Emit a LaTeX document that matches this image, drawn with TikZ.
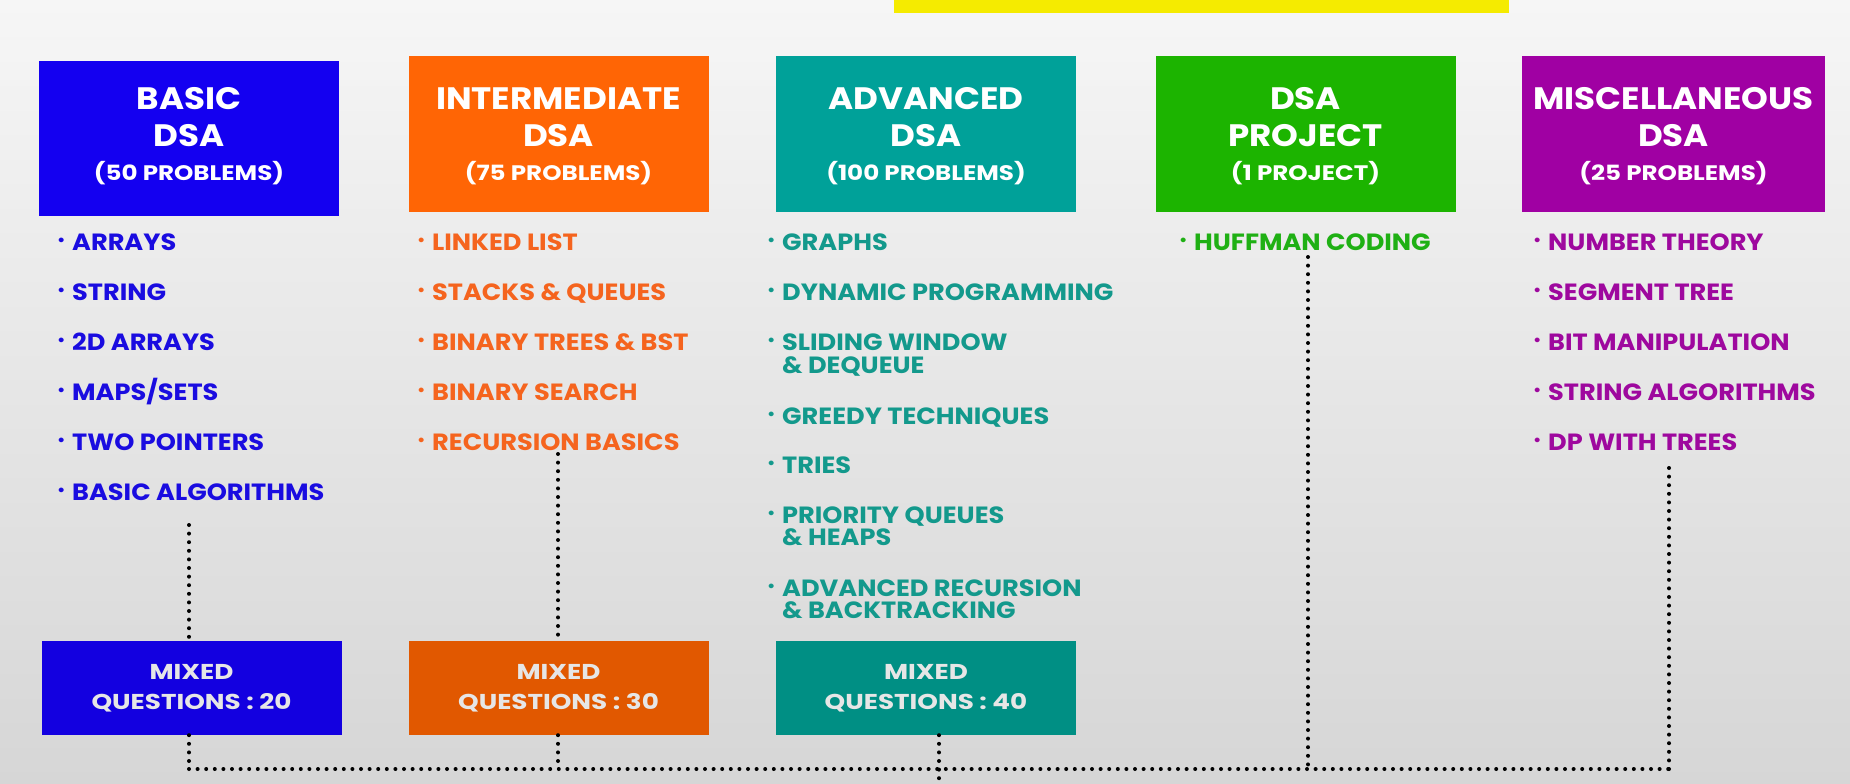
\documentclass[tikz,border=0pt]{standalone}
\usepackage{fontspec}
\setmainfont{Poppins}
\newfontfamily\headfont{Poppins}[FakeStretch=1.1]
\newfontfamily\subfont{Poppins}[FakeStretch=1.17]
\newfontfamily\listfont{Poppins}[FakeStretch=1.09]
\newfontfamily\mixfont{Poppins}[FakeStretch=1.22]

\definecolor{bgtop}{HTML}{F6F6F6}
\definecolor{bgbot}{HTML}{D6D6D6}
\definecolor{hlyellow}{HTML}{F5EB00}
\definecolor{cblue}{HTML}{1400F0}
\definecolor{corange}{HTML}{FF6505}
\definecolor{cteal}{HTML}{00A199}
\definecolor{cgreen}{HTML}{1CB400}
\definecolor{cpurple}{HTML}{A000A3}
\definecolor{dblue}{HTML}{1300E0}
\definecolor{dorange}{HTML}{E15800}
\definecolor{dteal}{HTML}{008F84}
\definecolor{tblue}{HTML}{1A0CE0}
\definecolor{torange}{HTML}{F5641E}
\definecolor{tteal}{HTML}{13998C}
\definecolor{tgreen}{HTML}{1FB014}
\definecolor{tpurple}{HTML}{9E089E}
\definecolor{mixtext}{HTML}{E6E6E6}

\newcommand\bul{\makebox[15pt][l]{\raisebox{0.32ex}{\scalebox{0.65}{•}}}}
\newcommand\subline[1]{\\[-4pt]{\subfont\fontsize{21}{37.5}\selectfont #1}}

\begin{document}
\begin{tikzpicture}[x=1pt,y=-1pt,
  headbox/.style={rectangle, minimum width=300pt, minimum height=155pt, inner sep=0pt},
  headtext/.style={inner sep=0pt, text=white, align=center,
    font=\headfont\fontsize{31}{37.5}\selectfont\bfseries},
  mixbox/.style={rectangle, minimum width=300pt, minimum height=94pt, inner sep=0pt,
    text=mixtext, align=center, font=\mixfont\fontsize{21.5}{30}\selectfont\bfseries},
  item/.style={anchor=base west, inner sep=0pt, font=\listfont\fontsize{23.5}{26}\selectfont\bfseries},
  dots/.style={line width=4pt, dash pattern=on 0pt off 8.6pt, line cap=round, black}]

% backdrop
\shade[top color=bgtop, bottom color=bgbot] (0,0) rectangle (1850,784);
\useasboundingbox (0,0) rectangle (1850,784);
\fill[hlyellow] (894,0) rectangle (1509,13);

% column headers
\node[headbox, fill=cblue]   (basic) at (189,138.5) {};
\node[headbox, fill=corange] (inter) at (558.5,134) {};
\node[headbox, fill=cteal]   (adv)   at (926,134)   {};
\node[headbox, fill=cgreen]  (proj)  at (1305.5,134) {};
\node[headbox, fill=cpurple, minimum width=303pt] (misc) at (1673.5,134) {};

\node[headtext] (basict) at (basic |- 0,136) {BASIC\\DSA\subline{(50 PROBLEMS)}};
\node[headtext] (intert) at (inter |- 0,136) {INTERMEDIATE\\DSA\subline{(75 PROBLEMS)}};
\node[headtext] (advt)   at (adv |- 0,136)   {ADVANCED\\DSA\subline{(100 PROBLEMS)}};
\node[headtext] (projt)  at (proj |- 0,136)  {DSA\\PROJECT\subline{(1 PROJECT)}};
\node[headtext] (misct)  at (misc |- 0,136)  {MISCELLANEOUS\\DSA\subline{(25 PROBLEMS)}};

% mixed question blocks
\node[mixbox, fill=dblue]   (mix1) at (191.5,688) {MIXED\\QUESTIONS : 20};
\node[mixbox, fill=dorange] (mix2) at (558.5,688) {MIXED\\QUESTIONS : 30};
\node[mixbox, fill=dteal]   (mix3) at (926,688)   {MIXED\\QUESTIONS : 40};

% basic topics
\begin{scope}[every node/.style={item, text=tblue}]
\node (b1) at (57,250) {\bul ARRAYS};
\node (b2) at (57,300) {\bul STRING};
\node (b3) at (57,350) {\bul 2D ARRAYS};
\node (b4) at (57,400) {\bul MAPS/SETS};
\node (b5) at (57,450) {\bul TWO POINTERS};
\node (b6) at (57,500) {\bul BASIC ALGORITHMS};
\end{scope}

% intermediate topics
\begin{scope}[every node/.style={item, text=torange}]
\node (i1) at (417,250) {\bul LINKED LIST};
\node (i2) at (417,300) {\bul STACKS \& QUEUES};
\node (i3) at (417,350) {\bul BINARY TREES \& BST};
\node (i4) at (417,400) {\bul BINARY SEARCH};
\node (i5) at (417,450) {\bul RECURSION BASICS};
\end{scope}

% advanced topics
\begin{scope}[every node/.style={item, text=tteal}]
\node (a1)  at (767,250) {\bul GRAPHS};
\node (a2)  at (767,300) {\bul DYNAMIC PROGRAMMING};
\node (a3)  at (767,350) {\bul SLIDING WINDOW};
\node (a3b) at (782,373) {\& DEQUEUE};
\node (a4)  at (767,424) {\bul GREEDY TECHNIQUES};
\node (a5)  at (767,473) {\bul TRIES};
\node (a6)  at (767,523) {\bul PRIORITY QUEUES};
\node (a6b) at (782,545) {\& HEAPS};
\node (a7)  at (767,596) {\bul ADVANCED RECURSION};
\node (a7b) at (782,618) {\& BACKTRACKING};
\end{scope}

% project topic
\node[item, text=tgreen] (p1) at (1179,250) {\bul HUFFMAN CODING};

% miscellaneous topics
\begin{scope}[every node/.style={item, text=tpurple}]
\node (m1) at (1533,250) {\bul NUMBER THEORY};
\node (m2) at (1533,300) {\bul SEGMENT TREE};
\node (m3) at (1533,350) {\bul BIT MANIPULATION};
\node (m4) at (1533,400) {\bul STRING ALGORITHMS};
\node (m5) at (1533,450) {\bul DP WITH TREES};
\end{scope}

% dotted links
\coordinate (bstart) at (189,525);
\coordinate (istart) at (558,454);
\coordinate (pstart) at (1308,257);
\coordinate (mstart) at (1669,468);
\coordinate (bcorner) at (189,769);
\coordinate (icorner) at (558,769);
\coordinate (pcorner) at (1308,769);
\coordinate (mcorner) at (1669,769);
\coordinate (aend) at (939,784);

\draw[dots] (bstart) -- (bstart |- mix1.north);
\draw[dots] (mix1.south -| bstart) -- (bcorner);
\draw[dots] (istart) -- (istart |- mix2.north);
\draw[dots] (mix2.south -| istart) -- (icorner);
\draw[dots] (mix3.south -| aend) -- (aend);
\draw[dots] (pstart) -- (pcorner);
\draw[dots] (mstart) -- (mcorner);
\draw[dots] (bcorner) -- (mcorner);
\end{tikzpicture}
\end{document}
